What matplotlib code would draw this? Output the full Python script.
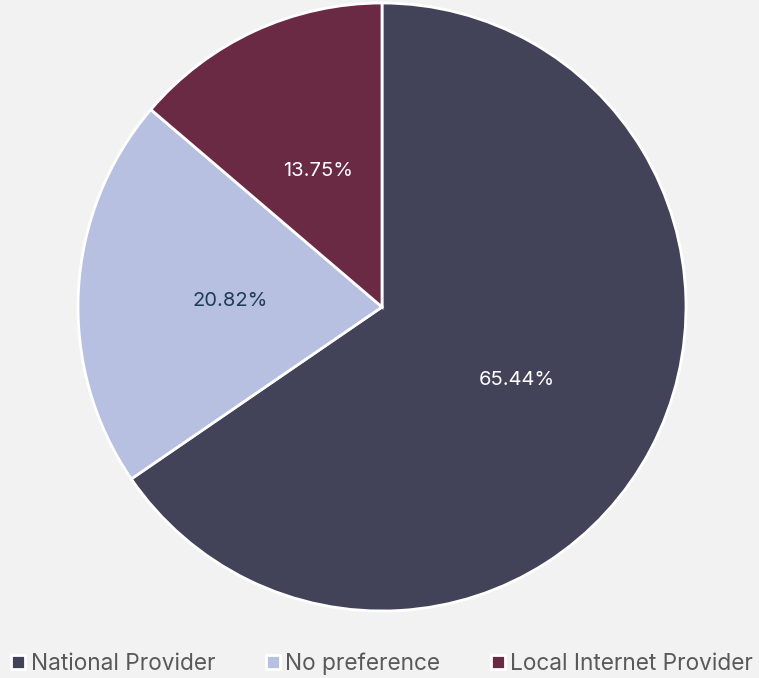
import matplotlib.pyplot as plt
from matplotlib.lines import Line2D

plt.rcParams['font.family'] = ['Inter', 'DejaVu Sans']

categories = ['National Provider', 'No preference', 'Local Internet Provider']
shares = [65.44, 20.82, 13.75]
colors = ['#424259', '#b7c0e0', '#6a2a44']
label_colors = ['white', '#1f3b57', 'white']

BG = '#f2f2f2'
W, H = 759, 678

fig = plt.figure(figsize=(W / 100, H / 100), dpi=100, facecolor=BG)

# pie area: centre ~(382, 307) px, radius ~304 px
cx, cy, r = 382, 307, 304
ax = fig.add_axes([(cx - r) / W, 1 - (cy + r) / H, 2 * r / W, 2 * r / H])
ax.set_facecolor(BG)

pct_labels = [f'{v:.2f}%' for v in shares]
wedges, texts = ax.pie(
    shares, colors=colors, startangle=90, counterclock=False,
    labels=pct_labels, labeldistance=0.5, radius=1.0,
    wedgeprops=dict(edgecolor='white', linewidth=2),
    textprops=dict(fontsize=14.5),
)
for t, c in zip(texts, label_colors):
    t.set_color(c)
    t.set_ha('center')
    t.set_va('center_baseline')
ax.set_xlim(-1.0, 1.0)
ax.set_ylim(-1.0, 1.0)
ax.set_aspect('equal')

handles = [
    Line2D([0], [0], marker='s', linestyle='none', markersize=10,
           markerfacecolor=c, markeredgecolor='white', markeredgewidth=2)
    for c in colors
]
fig.legend(handles, categories, loc='center', bbox_to_anchor=(0.503, 1 - 664 / H),
           ncol=3, frameon=False, fontsize=16.3, labelcolor='#595959',
           handlelength=0.7, handletextpad=0.2, columnspacing=2.2,
           borderaxespad=0, borderpad=0)

fig.savefig('out.png', dpi=100, facecolor=BG)
